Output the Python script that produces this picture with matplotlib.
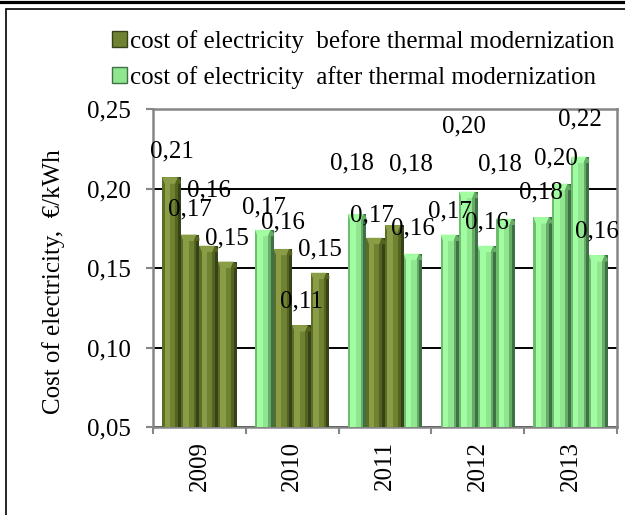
import numpy as np
import matplotlib
matplotlib.use('Agg')
import matplotlib.pyplot as plt
from matplotlib.patches import Patch, Rectangle, Polygon
from matplotlib.lines import Line2D
from matplotlib.ticker import FuncFormatter

# Data
years = ['2009', '2010', '2011', '2012', '2013']
cost = [
    [0.207, 0.171, 0.164, 0.154],
    [0.174, 0.162, 0.114, 0.147],
    [0.184, 0.169, 0.177, 0.159],
    [0.171, 0.198, 0.164, 0.181],
    [0.182, 0.203, 0.220, 0.158],
]
period = [
    ['before', 'before', 'before', 'before'],
    ['after', 'before', 'before', 'before'],
    ['after', 'before', 'before', 'after'],
    ['after', 'after', 'after', 'after'],
    ['after', 'after', 'after', 'after'],
]
legend_labels = ['cost of electricity  before thermal modernization',
                 'cost of electricity  after thermal modernization']

# label placement (points above bar top, horizontal shift in points)
label_lift = [
    [19, 18, 40, 17],
    [16, 19, 17, 17],
    [36, 16, 44, 18],
    [17, 47, 17, 39],
    [18, 18, 27, 17],
]
label_shift = [
    [0, 0, 0, 0],
    [0, 0, 0, 0],
    [-4, -3, 12, 0],
    [0, -3, 0, -4],
    [-1, -4, 0, -1],
]

# stripe colours to fake the 3D cylinder look: edge, highlight, main, shade, side
shades = {
    'before': ['#5c6d26', '#899c46', '#6f8231', '#54641e', '#36421a'],
    'after': ['#6cbe6c', '#a2fca2', '#8fe68f', '#66ab66', '#3f7147'],
}
stripes = [(0.0, 0.12), (0.12, 0.42), (0.42, 0.70), (0.70, 0.84), (0.84, 1.0)]

plt.rcParams['font.family'] = ['Liberation Serif', 'DejaVu Serif']
fs = 18

fig = plt.figure(figsize=(6.25, 5.15), dpi=100)
ax = fig.add_axes([153 / 625, 1 - 427 / 515, (617 - 153) / 625, (427 - 109) / 515])

offsets = [-0.4, -0.2, 0.0, 0.2]
w = 0.2
for i, yr in enumerate(years):
    for j, v in enumerate(cost[i]):
        x0 = i + offsets[j]
        cols = shades[period[i][j]]
        for (a, b), c in zip(stripes, cols):
            ax.bar(x0 + a * w, v, width=(b - a) * w, align='edge', color=c, lw=0, zorder=3)
        # bevelled top
        ax.add_patch(Polygon([[x0, v], [x0 + 0.84 * w, v], [x0 + 0.70 * w, v - 0.004],
                              [x0 + 0.13 * w, v - 0.004]], closed=True, color=cols[1], lw=0, zorder=4))
        ax.add_patch(Polygon([[x0 + 0.84 * w, v], [x0 + w, v - 0.002], [x0 + w, v - 0.004],
                              [x0 + 0.70 * w, v - 0.004]], closed=True, color=cols[3], lw=0, zorder=4))
        ax.annotate(('%.2f' % v).replace('.', ','), xy=(x0 + w / 2, v),
                    xytext=(label_shift[i][j], label_lift[i][j]), textcoords='offset points',
                    ha='center', va='center', fontsize=fs, zorder=5)

ax.set_xlim(-0.5, 4.5)
ax.set_ylim(0.05, 0.25)
ax.set_yticks([0.05, 0.10, 0.15, 0.20, 0.25])
ax.yaxis.set_major_formatter(FuncFormatter(lambda y, p: ('%.2f' % y).replace('.', ',')))
ax.yaxis.grid(True, color='black', lw=1.4)
ax.set_axisbelow(True)

ax.set_xticks(np.arange(-0.5, 5, 1))
ax.set_xticklabels([])
ax.set_xticks(np.arange(len(years)), minor=True)
ax.set_xticklabels(years, minor=True, rotation=90, fontsize=fs)
ax.tick_params(axis='x', which='minor', length=0, pad=10)
ax.tick_params(axis='x', which='major', length=5, color='#868686', width=1.5)
ax.tick_params(axis='y', length=5, color='#868686', width=1.5, labelsize=fs, pad=11)

for s in ax.spines.values():
    s.set_color('#868686')
    s.set_linewidth(1.8)

ax.set_ylabel('Cost of electricity,  €/kWh', fontsize=fs, va='center')
ax.yaxis.set_label_coords((54 - 153) / 464, (427 - 282) / 318)

handles = [Patch(facecolor=shades['before'][2], edgecolor=shades['before'][4]),
           Patch(facecolor=shades['after'][2], edgecolor=shades['after'][4])]
fig.legend(handles, legend_labels, loc='upper left', bbox_to_anchor=(112 / 625, 1 - 30 / 515),
           frameon=False, handlelength=0.6, handleheight=0.6, handletextpad=0.12,
           borderaxespad=0, borderpad=0, labelspacing=0.52, prop={'size': fs})

# outer frame
fig.add_artist(Line2D([0, 1], [1 - 1.5 / 515] * 2, transform=fig.transFigure, color='black', lw=2.3))
fig.add_artist(Rectangle((6 / 625, -0.1), 1.2, 1.1 - 9 / 515, transform=fig.transFigure,
                         fill=False, ec='black', lw=1.2))

fig.savefig('out.png', dpi=100)
